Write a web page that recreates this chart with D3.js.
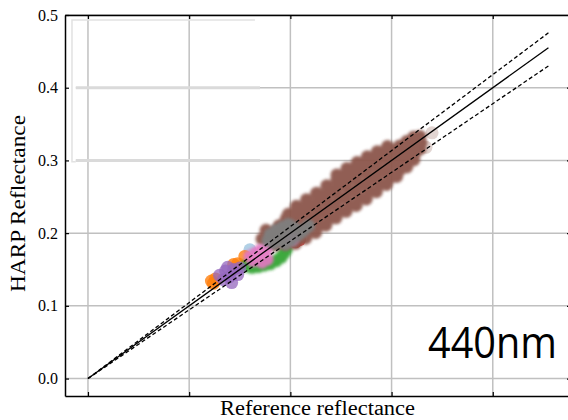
<!DOCTYPE html>
<html>
<head>
<meta charset="utf-8">
<script src="https://cdn.jsdelivr.net/npm/d3@7"></script>
<style>
  body { margin: 0; background: #fff; }
  svg { display: block; }
</style>
</head>
<body>
<svg id="chart" width="568" height="420"></svg>
<script>
// tick values (x ticks carry no labels in the original)
const xTicks = [0, 0.1, 0.2, 0.3, 0.4];
const yTicks = [0.0, 0.1, 0.2, 0.3, 0.4, 0.5];

// reference lines: slope of y = k * x, solid 1:1 and dashed bounds
const lineSlopes = [1.0, 1.045, 0.945];
const lineDash = [null, "4,2.5", "4,2.5"];
const lineEnd = 0.455;

// scatter series, [reference, HARP]
const brownPts = [
  [0.172, 0.192], [0.178, 0.198], [0.176, 0.204],
  [0.185, 0.184], [0.188, 0.193], [0.186, 0.202], [0.189, 0.210],
  [0.195, 0.185], [0.198, 0.194], [0.195, 0.203], [0.198, 0.212], [0.196, 0.220], [0.198, 0.226],
  [0.205, 0.186], [0.208, 0.195], [0.205, 0.204], [0.208, 0.213], [0.205, 0.222], [0.207, 0.230], [0.206, 0.237],
  [0.215, 0.193], [0.218, 0.202], [0.215, 0.211], [0.218, 0.220], [0.215, 0.229], [0.218, 0.238], [0.216, 0.246],
  [0.225, 0.201], [0.228, 0.210], [0.225, 0.219], [0.228, 0.228], [0.225, 0.237], [0.228, 0.246], [0.226, 0.255],
  [0.235, 0.211], [0.238, 0.220], [0.235, 0.229], [0.238, 0.238], [0.235, 0.247], [0.238, 0.256], [0.236, 0.265],
  [0.245, 0.221], [0.248, 0.230], [0.245, 0.239], [0.248, 0.248], [0.245, 0.257], [0.248, 0.266], [0.246, 0.274], [0.246, 0.280],
  [0.255, 0.230], [0.258, 0.239], [0.255, 0.248], [0.258, 0.257], [0.255, 0.266], [0.258, 0.275], [0.256, 0.283], [0.256, 0.289],
  [0.265, 0.238], [0.268, 0.248], [0.265, 0.257], [0.268, 0.266], [0.265, 0.275], [0.268, 0.284], [0.266, 0.291], [0.266, 0.297],
  [0.275, 0.247], [0.278, 0.257], [0.275, 0.266], [0.278, 0.275], [0.275, 0.284], [0.278, 0.293], [0.276, 0.299], [0.276, 0.305],
  [0.285, 0.257], [0.288, 0.267], [0.285, 0.276], [0.288, 0.285], [0.285, 0.294], [0.288, 0.302], [0.286, 0.307], [0.286, 0.312],
  [0.295, 0.267], [0.298, 0.276], [0.295, 0.285], [0.298, 0.294], [0.295, 0.303], [0.298, 0.311], [0.296, 0.315], [0.296, 0.319],
  [0.305, 0.278], [0.308, 0.287], [0.305, 0.296], [0.308, 0.305], [0.305, 0.313], [0.308, 0.320],
  [0.315, 0.291], [0.317, 0.300], [0.315, 0.309], [0.317, 0.318], [0.315, 0.326],
  [0.322, 0.301], [0.323, 0.310], [0.322, 0.319], [0.323, 0.327], [0.322, 0.332],
  [0.328, 0.316], [0.329, 0.324], [0.328, 0.333]
];
const brownFaint = [[0.334, 0.318], [0.340, 0.338]];
const grayPts = [
  [0.178, 0.190], [0.180, 0.198], [0.184, 0.186], [0.185, 0.195], [0.186, 0.204],
  [0.190, 0.190], [0.191, 0.199], [0.192, 0.208], [0.195, 0.185], [0.196, 0.194],
  [0.197, 0.203], [0.198, 0.212], [0.201, 0.190], [0.202, 0.199], [0.203, 0.208],
  [0.206, 0.196], [0.207, 0.204], [0.210, 0.200], [0.214, 0.205], [0.218, 0.210]
];
const pinkPts = [
  [0.163, 0.162], [0.165, 0.172], [0.168, 0.165], [0.170, 0.176], [0.172, 0.160],
  [0.174, 0.170], [0.176, 0.178], [0.177, 0.164], [0.160, 0.168], [0.202, 0.192]
];
const greenPts = [
  [0.157, 0.155], [0.162, 0.153], [0.168, 0.154], [0.174, 0.156], [0.180, 0.158],
  [0.186, 0.162], [0.191, 0.167], [0.194, 0.173], [0.196, 0.178]
];
const purplePts = [
  [0.130, 0.142], [0.134, 0.136], [0.136, 0.148], [0.140, 0.140], [0.142, 0.132],
  [0.144, 0.150], [0.148, 0.143], [0.150, 0.152], [0.138, 0.153]
];
const orangePts = [[0.122, 0.134], [0.126, 0.137], [0.124, 0.131], [0.144, 0.157], [0.148, 0.158], [0.155, 0.168]];
const bluePts = [[0.160, 0.177]];
const redPts = [[0.205, 0.188], [0.209, 0.191]];

// plotting order follows matplotlib's tab10 cycle.
// dense clouds (solid: true) are drawn as one merged blob with soft edges
const series = [
  { pts: bluePts, color: "#1f77b4", alpha: 0.35 },
  { pts: orangePts, color: "#ff7f0e", alpha: 0.8 },
  { pts: greenPts, color: "#2ca02c", alpha: 0.9, solid: true },
  { pts: redPts, color: "#d62728", alpha: 0.85 },
  { pts: purplePts, color: "#9467bd", alpha: 0.75 },
  { pts: brownPts, color: "#8c564b", alpha: 0.95, solid: true },
  { pts: brownFaint, color: "#8c564b", alpha: 0.25 },
  { pts: pinkPts, color: "#e377c2", alpha: 0.92, solid: true },
  { pts: grayPts, color: "#7f7f7f", alpha: 0.95, solid: true }
];

const svg = d3.select("#chart");

svg.append("defs").append("filter")
  .attr("id", "soft")
  .append("feGaussianBlur").attr("stdDeviation", 1.4);

const x = d3.scaleLinear().domain([-0.0227, 0.4773]).range([65, 571]);
const y = d3.scaleLinear().domain([-0.024, 0.5]).range([396, 15]);

const gridColor = "#c0c0c0";

// grid
svg.append("g").selectAll("line.vx").data(xTicks).join("line")
  .attr("x1", d => x(d)).attr("x2", d => x(d))
  .attr("y1", y.range()[0]).attr("y2", y.range()[1])
  .attr("stroke", gridColor).attr("stroke-width", 1.5);
svg.append("g").selectAll("line.hy").data(yTicks).join("line")
  .attr("x1", x.range()[0]).attr("x2", x.range()[1])
  .attr("y1", d => y(d)).attr("y2", d => y(d))
  .attr("stroke", gridColor).attr("stroke-width", 1.5);

// remnants of an erased legend box in the top-left corner
const ghost = svg.append("g");
[0.4, 0.3].forEach(v => {
  ghost.append("rect")
    .attr("x", x.range()[0] + 1).attr("y", y(v) - 2)
    .attr("width", x(-0.012) - x.range()[0] - 1).attr("height", 4)
    .attr("fill", "#fff");
});
ghost.append("path")
  .attr("d", `M${x(0.165)},${y(0.493)}H${x(-0.0158)}V${y(0.298)}H${x(-0.012)}`)
  .attr("fill", "none").attr("stroke", "#e2e2e2").attr("stroke-width", 1.5);
ghost.selectAll("line").data([0.4, 0.3]).join("line")
  .attr("x1", x(-0.012)).attr("x2", x(0.17))
  .attr("y1", d => y(d)).attr("y2", d => y(d))
  .attr("stroke", "#dadada").attr("stroke-width", 3);

// scatter
series.forEach(s => {
  const g = svg.append("g");
  if (s.solid) g.attr("opacity", s.alpha).attr("filter", "url(#soft)");
  g.selectAll("circle").data(s.pts).join("circle")
    .attr("cx", d => x(d[0]))
    .attr("cy", d => y(d[1]))
    .attr("r", 6.5)
    .attr("fill", s.color)
    .attr("fill-opacity", s.solid ? 1 : s.alpha);
});

// reference lines
const line = d3.line().x(d => x(d[0])).y(d => y(d[1]));
lineSlopes.forEach((k, i) => {
  svg.append("path")
    .attr("d", line([[0, 0], [lineEnd, k * lineEnd]]))
    .attr("fill", "none")
    .attr("stroke", "#000")
    .attr("stroke-width", 1.3)
    .attr("stroke-dasharray", lineDash[i]);
});

// axes, ticks pointing inward on all four sides
const serif = "'Liberation Serif', 'DejaVu Serif', serif";
function styleAxis(g) {
  g.select(".domain").attr("stroke", "#000").attr("stroke-width", 1.5);
  g.selectAll(".tick line").attr("stroke", "#000").attr("stroke-width", 1.2);
}
svg.append("g").attr("transform", `translate(0,${y.range()[0]})`)
  .call(d3.axisBottom(x).tickValues(xTicks).tickSize(-4).tickSizeOuter(0).tickFormat(""))
  .call(styleAxis);
svg.append("g").attr("transform", `translate(0,${y.range()[1]})`)
  .call(d3.axisTop(x).tickValues(xTicks).tickSize(-4).tickSizeOuter(0).tickFormat(""))
  .call(styleAxis);
svg.append("g").attr("transform", `translate(${x.range()[1]},0)`)
  .call(d3.axisRight(y).tickValues(yTicks).tickSize(-4).tickSizeOuter(0).tickFormat(""))
  .call(styleAxis);
svg.append("g").attr("transform", `translate(${x.range()[0]},0)`)
  .call(d3.axisLeft(y).tickValues(yTicks).tickSize(-4).tickSizeOuter(0).tickPadding(7).tickFormat(d3.format(".1f")))
  .attr("font-family", serif)
  .call(styleAxis)
  .call(g => g.selectAll(".tick text")
    .style("font-family", serif).style("font-size", "16px").attr("fill", "#000"));

// axis titles
svg.append("text")
  .attr("x", 317.5).attr("y", 415)
  .attr("text-anchor", "middle")
  .attr("font-family", serif).attr("font-size", 20)
  .attr("textLength", 195).attr("lengthAdjust", "spacingAndGlyphs")
  .text("Reference reflectance");
svg.append("text")
  .attr("transform", "translate(25,203.5) rotate(-90)")
  .attr("text-anchor", "middle")
  .attr("font-family", serif).attr("font-size", 20)
  .attr("textLength", 177).attr("lengthAdjust", "spacingAndGlyphs")
  .text("HARP Reflectance");

// wavelength tag, squeezed horizontally to the narrower original face
svg.append("text")
  .attr("transform", "translate(428,358) scale(0.9,1)")
  .attr("font-family", "'Open Sans', 'Noto Sans', sans-serif").attr("font-size", 44)
  .text("440nm");
</script>
</body>
</html>
